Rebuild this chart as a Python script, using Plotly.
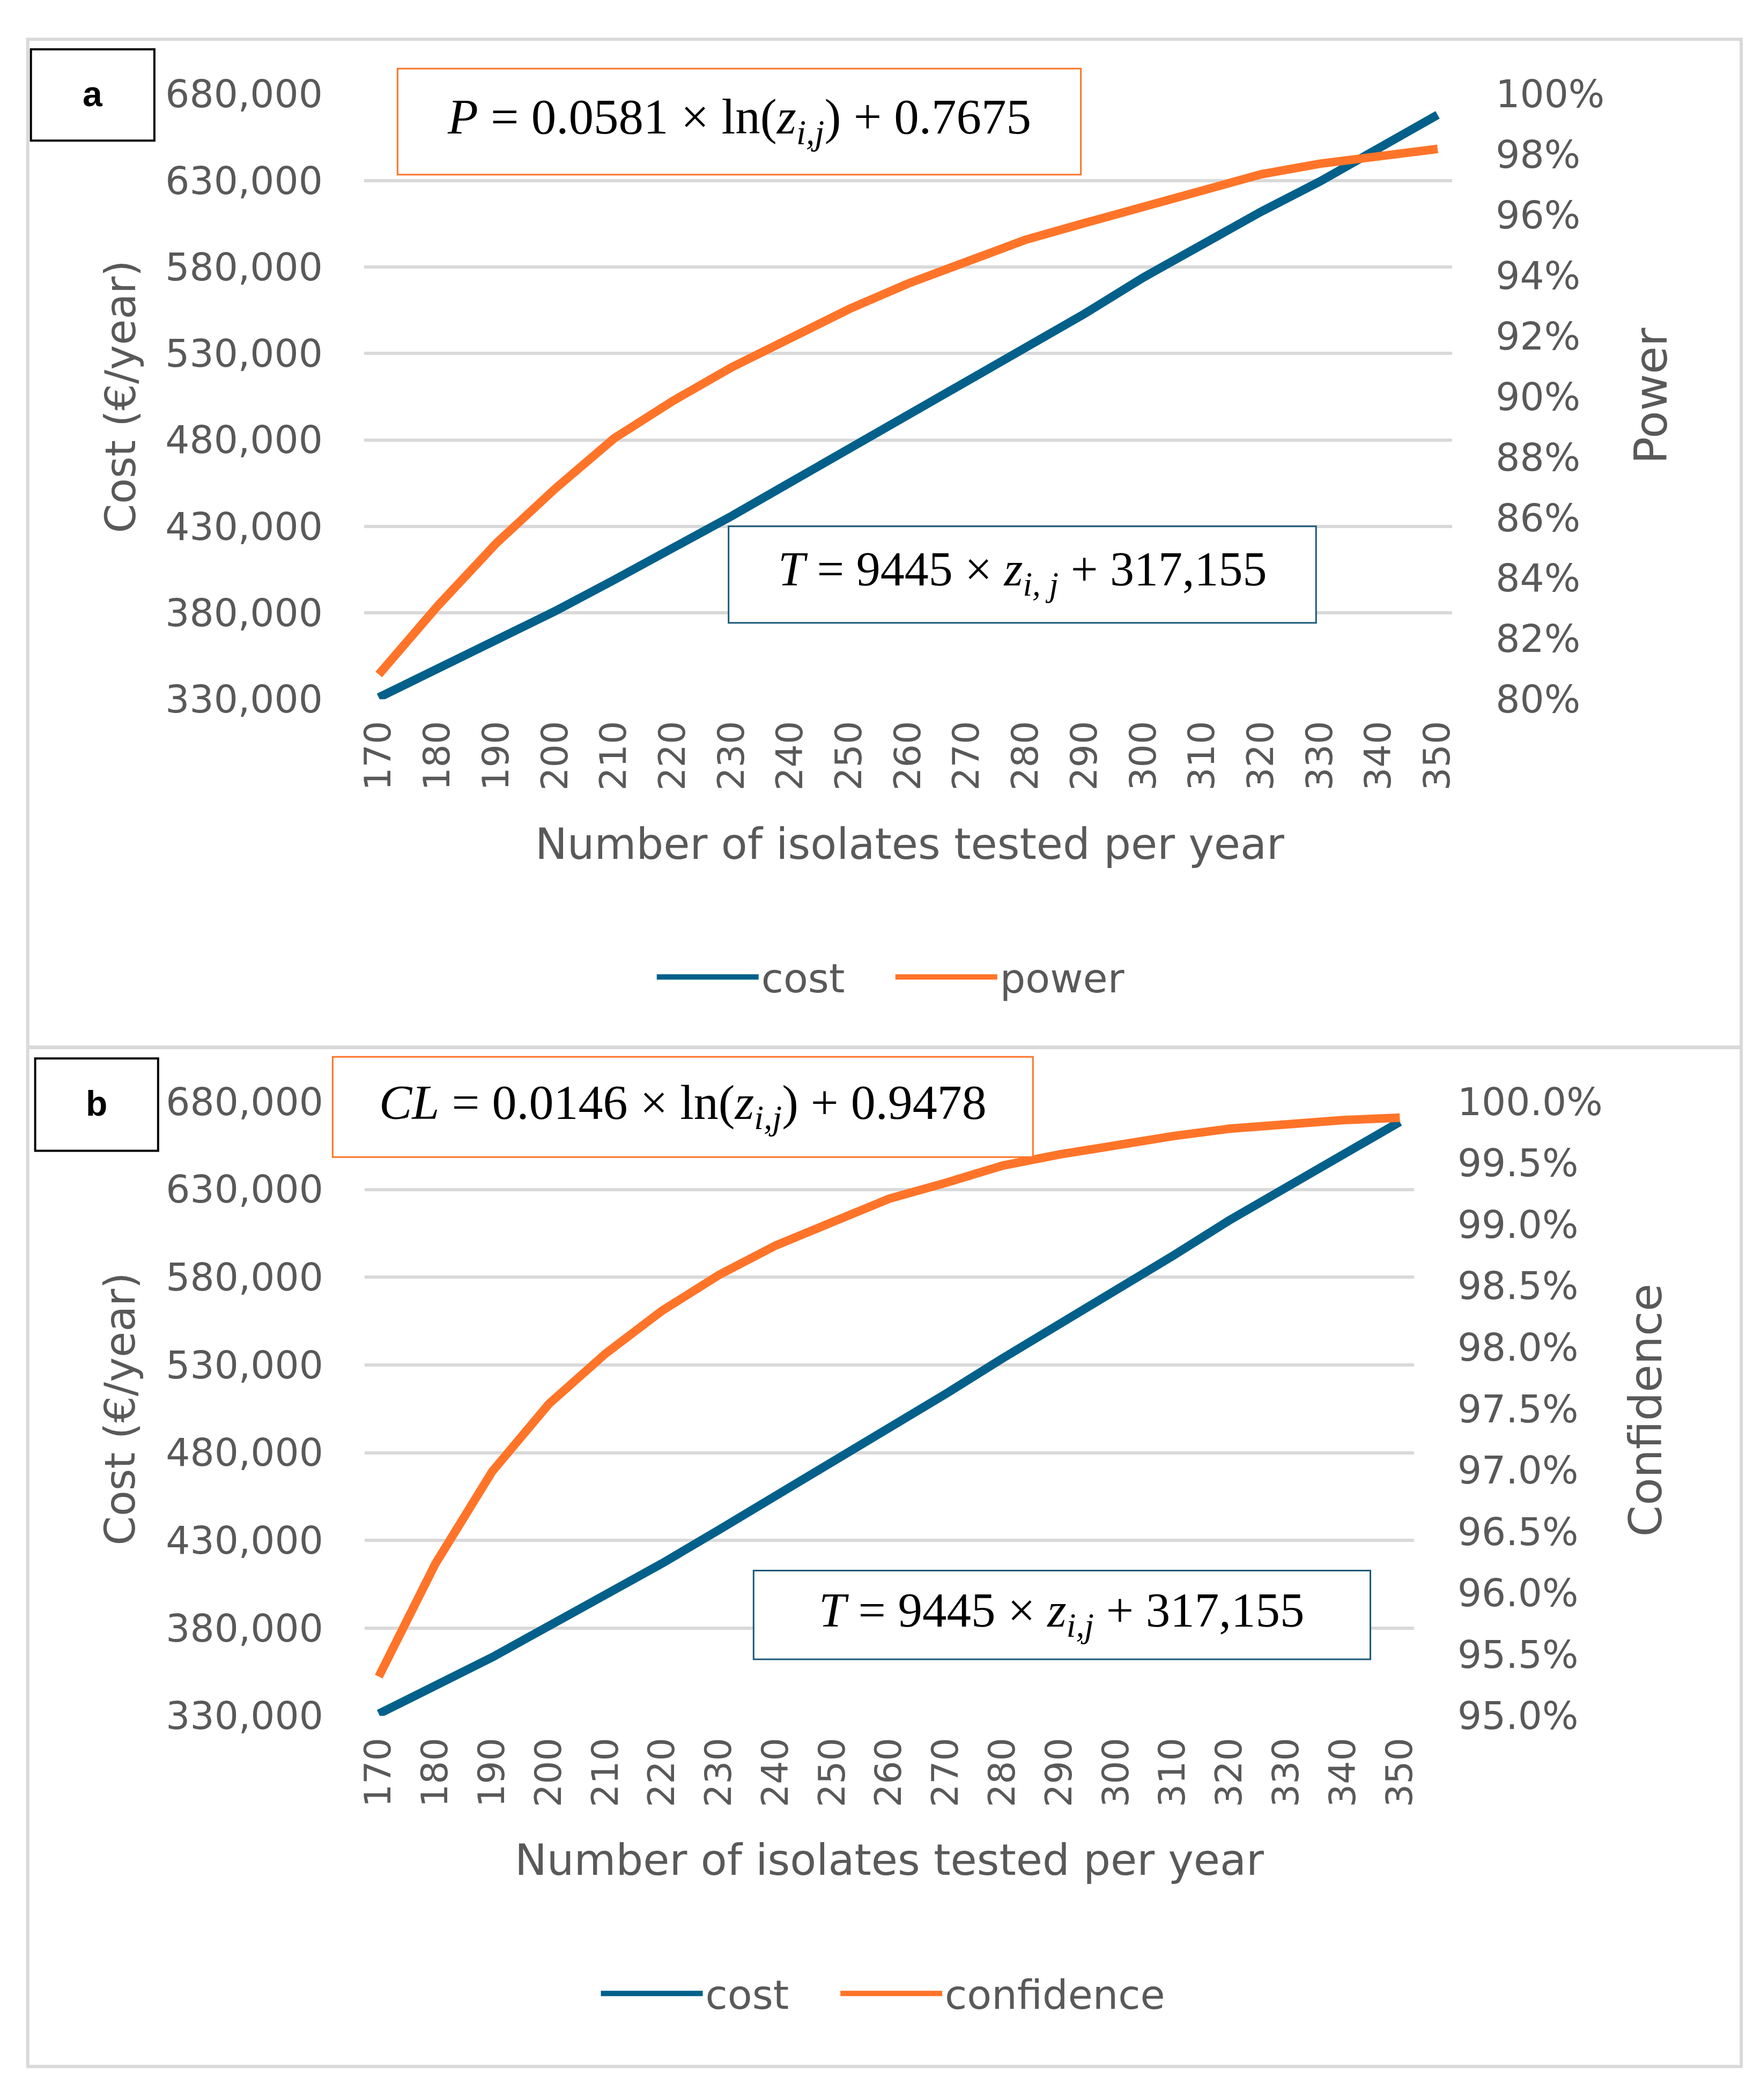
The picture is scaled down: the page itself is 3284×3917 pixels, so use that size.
import plotly.graph_objects as go

# ---------------- data ----------------
isolates = [170, 180, 190, 200, 210, 220, 230, 240, 250, 260,
            270, 280, 290, 300, 310, 320, 330, 340, 350]

cost_a = [331000, 347500, 364000, 381000, 399000, 417000, 436000, 455500, 475000, 494500,
          514000, 533500, 553000, 574000, 593500, 612000, 629500, 648500, 668000]
power_a = [0.8082, 0.8308, 0.8516, 0.8696, 0.8862, 0.8986, 0.9097, 0.9194, 0.9290, 0.9374,
           0.9450, 0.9519, 0.9574, 0.9629, 0.9678, 0.9735, 0.9770, 0.9798, 0.9819]

cost_b = [331200, 346700, 363400, 381300, 399100, 417000, 436100, 455200, 475400, 494500,
          513600, 533800, 552900, 573200, 592200, 612500, 631600, 650500, 668500]
confidence_b = [0.9532, 0.9624, 0.9699, 0.9754, 0.9795, 0.9830, 0.9859, 0.9883, 0.9902, 0.9921,
                0.9934, 0.9948, 0.9957, 0.9965, 0.9972, 0.9978, 0.9982, 0.9985, 0.9987]

cost_ticks = [330000, 380000, 430000, 480000, 530000, 580000, 630000, 680000]
power_ticks = [0.80, 0.82, 0.84, 0.86, 0.88, 0.90, 0.92, 0.94, 0.96, 0.98, 1.00]
conf_ticks = [0.950, 0.955, 0.960, 0.965, 0.970, 0.975, 0.980, 0.985, 0.990, 0.995, 1.000]

legend_a = ["cost", "power"]
legend_b = ["cost", "confidence"]

eq_power = "<i>P</i> = 0.0581 × ln(<i>z</i><sub><i>i,j</i></sub>) + 0.7675"
eq_conf = "<i>CL</i> = 0.0146 × ln(<i>z</i><sub><i>i,j</i></sub>) + 0.9478"
eq_cost_a = "<i>T</i> = 9445 × <i>z</i><sub><i>i, j</i></sub> + 317,155"
eq_cost_b = "<i>T</i> = 9445 × <i>z</i><sub><i>i,j</i></sub> + 317,155"

# ---------------- style ----------------
W, H = 3284, 3917
BLUE = "#02608A"
ORANGE = "#FF7429"
GRID = "#D9D9D9"
TXT = "#595959"
FONT = "DejaVu Sans"
SERIF = "Liberation Serif"
LW = 16


def px(x):
    return x / W


def py(y):
    return 1 - y / H


fig = go.Figure()

fig.add_trace(go.Scatter(x=isolates, y=cost_a, name=legend_a[0], mode="lines",
                         line=dict(color=BLUE, width=LW), xaxis="x", yaxis="y",
                         legend="legend"))
fig.add_trace(go.Scatter(x=isolates, y=power_a, name=legend_a[1], mode="lines",
                         line=dict(color=ORANGE, width=LW), xaxis="x", yaxis="y2",
                         legend="legend"))
fig.add_trace(go.Scatter(x=isolates, y=cost_b, name=legend_b[0], mode="lines",
                         line=dict(color=BLUE, width=LW), xaxis="x3", yaxis="y3",
                         legend="legend2"))
fig.add_trace(go.Scatter(x=isolates, y=confidence_b, name=legend_b[1], mode="lines",
                         line=dict(color=ORANGE, width=LW), xaxis="x3", yaxis="y4",
                         legend="legend3"))

tickfont = dict(family=FONT, size=71, color=TXT)
xtickfont = dict(family=FONT, size=68, color=TXT)
legfont = dict(family=FONT, size=75, color=TXT)

xcommon = dict(tickmode="array", tickvals=isolates, ticktext=[str(v) for v in isolates],
               tickangle=-90, showgrid=False, zeroline=False, showline=False,
               ticks="", tickfont=xtickfont, ticklabelstandoff=26, fixedrange=True)
ycommon = dict(showgrid=True, gridcolor=GRID, gridwidth=6, zeroline=False, showline=False,
               ticks="", tickfont=tickfont, ticklabelstandoff=76, fixedrange=True)

fig.update_layout(
    width=W, height=H,
    margin=dict(l=0, r=0, t=0, b=0),
    paper_bgcolor="white", plot_bgcolor="white",
    xaxis=dict(domain=[px(670), px(2715)], anchor="y", range=[167.5, 352.5], **xcommon),
    yaxis=dict(domain=[py(1290.6), py(137.5)], anchor="x", range=[330000, 680000],
               tickvals=cost_ticks, tickformat=",", **ycommon),
    yaxis2=dict(overlaying="y", anchor="x", side="right", range=[0.80, 1.00],
                tickvals=power_ticks, tickformat=".0%", showgrid=False, zeroline=False,
                showline=False, ticks="", tickfont=tickfont, ticklabelstandoff=80,
                fixedrange=True),
    xaxis3=dict(domain=[px(671), px(2643)], anchor="y3", range=[167.5, 352.5], **xcommon),
    yaxis3=dict(domain=[py(3228), py(2057.5)], anchor="x3", range=[330000, 680000],
                tickvals=cost_ticks, tickformat=",", **ycommon),
    yaxis4=dict(overlaying="y3", anchor="x3", side="right", range=[0.95, 1.00],
                tickvals=conf_ticks, tickformat=".1%", showgrid=False, zeroline=False,
                showline=False, ticks="", tickfont=tickfont, ticklabelstandoff=80,
                fixedrange=True),
    legend=dict(orientation="h", x=px(1215), y=py(1820), xanchor="left", yanchor="middle",
                font=legfont, bgcolor="rgba(0,0,0,0)",
                itemwidth=190, entrywidth=240, entrywidthmode="pixels"),
    legend2=dict(orientation="h", x=px(1110), y=py(3757), xanchor="left", yanchor="middle",
                 font=legfont, bgcolor="rgba(0,0,0,0)", itemwidth=190),
    legend3=dict(orientation="h", x=px(1560), y=py(3757), xanchor="left", yanchor="middle",
                 font=legfont, bgcolor="rgba(0,0,0,0)", itemwidth=190),
    showlegend=True,
)

shapes = []
# outer frame and separator
shapes.append(dict(type="rect", xref="paper", yref="paper", x0=px(38), x1=px(3258),
                   y0=py(3896), y1=py(33), line=dict(color=GRID, width=6), layer="below"))
shapes.append(dict(type="line", xref="paper", yref="paper", x0=px(38), x1=px(3258),
                   y0=py(1954), y1=py(1954), line=dict(color=GRID, width=7), layer="below"))
# panel letter boxes
shapes.append(dict(type="rect", xref="paper", yref="paper", x0=px(44), x1=px(276),
                   y0=py(226), y1=py(52), line=dict(color="black", width=4),
                   fillcolor="white", layer="above"))
shapes.append(dict(type="rect", xref="paper", yref="paper", x0=px(52), x1=px(283),
                   y0=py(2151), y1=py(1975), line=dict(color="black", width=4),
                   fillcolor="white", layer="above"))
# equation boxes
shapes.append(dict(type="rect", xref="paper", yref="paper", x0=px(733), x1=px(2017),
                   y0=py(291), y1=py(89), line=dict(color=ORANGE, width=3),
                   fillcolor="white", layer="above"))
shapes.append(dict(type="rect", xref="paper", yref="paper", x0=px(1355), x1=px(2459),
                   y0=py(1145), y1=py(961), line=dict(color="#1B5A7A", width=3),
                   fillcolor="white", layer="above"))
shapes.append(dict(type="rect", xref="paper", yref="paper", x0=px(611), x1=px(1927),
                   y0=py(2163), y1=py(1972), line=dict(color=ORANGE, width=3),
                   fillcolor="white", layer="above"))
shapes.append(dict(type="rect", xref="paper", yref="paper", x0=px(1402), x1=px(2561),
                   y0=py(3120), y1=py(2951), line=dict(color="#1B5A7A", width=3),
                   fillcolor="white", layer="above"))
fig.update_layout(shapes=shapes)

ann = []


def note(text, x, y, size, family=FONT, color=TXT, angle=0, **kw):
    ann.append(dict(text=text, x=px(x), y=py(y), xref="paper", yref="paper",
                    showarrow=False, xanchor="center", yanchor="middle",
                    textangle=angle, font=dict(family=family, size=size, color=color), **kw))


note("<b>a</b>", 160, 137, 66, family="Liberation Sans", color="black")
note("<b>b</b>", 167, 2061, 66, family="Liberation Sans", color="black")
note(eq_power, 1375, 187, 93, family=SERIF, color="black")
note(eq_cost_a, 1907, 1050, 90, family=SERIF, color="black")
note(eq_conf, 1269, 2065, 92, family=SERIF, color="black")
note(eq_cost_b, 1981, 3033, 91, family=SERIF, color="black")

note("Cost (€/year)", 212, 714, 78, angle=-90)
note("Power", 3088, 712, 84, angle=-90)
note("Cost (€/year)", 212, 2643, 78, angle=-90)
note("Confidence", 3078, 2646, 84, angle=-90)
note("Number of isolates tested per year", 1695, 1567, 80)
note("Number of isolates tested per year", 1657, 3503, 80)
fig.update_layout(annotations=ann)

fig.write_html("out.html", config={"displayModeBar": False},
               post_script="document.body.style.margin='0px';document.body.style.overflow='hidden';")
